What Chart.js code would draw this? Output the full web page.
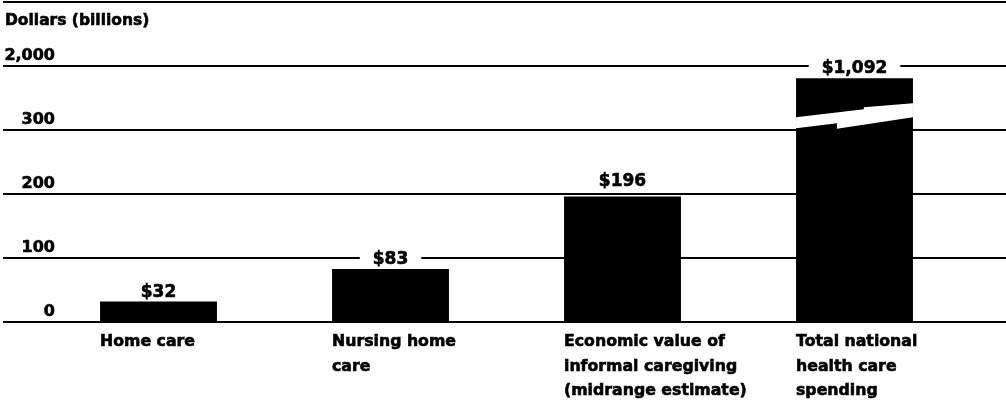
<!DOCTYPE html>
<html>
<head>
<meta charset="utf-8">
<script src="https://cdn.jsdelivr.net/npm/chart.js@4"></script>
<style>
  html, body { margin: 0; padding: 0; background: #fff; }
  #wrap { width: 1006px; height: 401px; position: relative; }
</style>
</head>
<body>
<div id="wrap"><canvas id="chart"></canvas></div>
<script>
// data
const categories = [
    ['Home care'],
    ['Nursing home', 'care'],
    ['Economic value of', 'informal caregiving', '(midrange estimate)'],
    ['Total national', 'health care', 'spending']
];
const values = [32, 83, 196, 1092];
const valueLabels = ['$32', '$83', '$196', '$1,092'];
const tickValues = [0, 100, 200, 300, 400];
const tickLabels = ['0', '100', '200', '300', '2,000'];
const axisBreak = 300;      // axis is broken above this value
const brokenBarTop = 381;   // where the broken bar is drawn to on the axis

const FONT = '"DejaVu Sans", sans-serif';

// heavier text, the original uses a very black gothic face
function heavyText(ctx, txt, x, y) {
    ctx.lineWidth = 0.6;
    ctx.strokeStyle = '#000';
    ctx.strokeText(txt, x, y);
    ctx.fillText(txt, x, y);
}

const decorations = {
    id: 'decorations',
    beforeDatasetsDraw(chart) {
        const ctx = chart.ctx;
        const y = chart.scales.y;
        ctx.save();
        // top rule
        ctx.fillStyle = '#000';
        ctx.fillRect(3, 1, chart.width - 3, 2);
        ctx.font = 'bold 15.5px ' + FONT;
        ctx.textAlign = 'left';
        ctx.textBaseline = 'alphabetic';
        heavyText(ctx, 'Dollars (billions)', 5, 25);
        // grid lines + tick labels
        ctx.font = 'bold 16px ' + FONT;
        ctx.textAlign = 'right';
        tickValues.forEach((v, i) => {
            const py = Math.round(y.getPixelForValue(v));
            ctx.fillRect(3, py - 1, chart.width - 3, 2);
            heavyText(ctx, tickLabels[i], 55, py - 6);
        });
        ctx.restore();
    },
    afterDatasetsDraw(chart) {
        const ctx = chart.ctx;
        const ys = chart.scales.y;
        const meta = chart.getDatasetMeta(0);
        const gridPx = tickValues.map(v => Math.round(ys.getPixelForValue(v)));
        ctx.save();
        meta.data.forEach((bar, i) => {
            const L = bar.x - bar.width / 2, R = bar.x + bar.width / 2, w = bar.width, t = bar.y;
            if (values[i] > axisBreak) {
                // break symbol across the bar
                ctx.fillStyle = '#fff';
                ctx.beginPath();
                ctx.moveTo(L, t + 39);
                ctx.lineTo(L + w * 0.58, t + 31);
                ctx.lineTo(L + w * 0.58, t + 29);
                ctx.lineTo(R, t + 25);
                ctx.lineTo(R, t + 39);
                ctx.lineTo(L + w * 0.35, t + 50.5);
                ctx.lineTo(L + w * 0.35, t + 45);
                ctx.lineTo(L, t + 50);
                ctx.closePath();
                ctx.fill();
            }
            // value label with white knock-out
            ctx.font = 'bold 17px ' + FONT;
            const tw = ctx.measureText(valueLabels[i]).width;
            let base = t - 5;
            // if a grid line runs just above the bar, put the label over that line
            const g = gridPx.find(p => p > base - 2 && p < t);
            if (g !== undefined) base = g - 8;
            else {
                ctx.fillStyle = '#fff';
                ctx.fillRect(bar.x - tw / 2 - 13, base - 15, tw + 26, 16);
            }
            ctx.fillStyle = '#000';
            ctx.textAlign = 'center';
            ctx.textBaseline = 'alphabetic';
            heavyText(ctx, valueLabels[i], bar.x, base);
        });
        ctx.restore();
    }
};

new Chart(document.getElementById('chart'), {
    type: 'bar',
    data: {
        labels: categories,
        datasets: [{
            data: values.map(v => v > axisBreak ? brokenBarTop : v),
            backgroundColor: '#000',
            borderWidth: 0,
            categoryPercentage: 1,
            barPercentage: 0.504
        }]
    },
    options: {
        responsive: true,
        maintainAspectRatio: false,
        animation: false,
        layout: { padding: { top: 66, left: 42.5, right: 35.5, bottom: 0 } },
        plugins: { legend: { display: false }, tooltip: { enabled: false } },
        scales: {
            x: {
                grid: { display: false, drawTicks: false },
                border: { display: false },
                ticks: {
                    color: '#000',
                    font: { family: FONT, size: 15.75, weight: 'bold', lineHeight: 1.55 },
                    textStrokeColor: '#000',
                    textStrokeWidth: 0.6,
                    align: 'start',
                    labelOffset: -58.5,
                    padding: 8,
                    maxRotation: 0,
                    autoSkip: false
                },
                afterFit(scale) { scale.height = 79; }
            },
            y: {
                display: false,
                min: 0,
                max: 400
            }
        }
    },
    plugins: [decorations]
});
</script>
</body>
</html>
